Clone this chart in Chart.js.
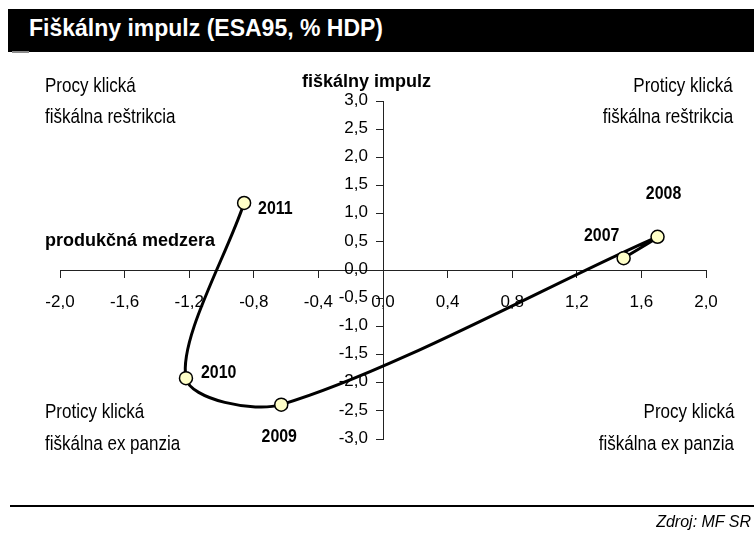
<!DOCTYPE html>
<html lang="sk">
<head>
<meta charset="utf-8">
<script src="https://cdn.jsdelivr.net/npm/chart.js@4.4.1/dist/chart.umd.min.js"></script>
<style>
  html, body { margin: 0; padding: 0; background: #fff; }
  body { width: 754px; height: 534px; position: relative; overflow: hidden; font-family: "Liberation Sans", Arial, sans-serif; }
  #chartBox { position: absolute; left: 0; top: 0; width: 754px; height: 534px; }
  .title-bar { position: absolute; left: 8px; top: 9px; width: 746px; height: 43px; background: #000; }
  .title-mark { position: absolute; left: 12px; top: 51px; width: 17px; height: 2px; background: #8a8a8a; }
  .title { position: absolute; left: 29px; top: 17px; color: #fff; font-weight: bold; font-size: 23px; line-height: 23px; white-space: nowrap; }
  /* the original text is a tall, condensed face: squeeze Liberation Sans */
  .txt { position: absolute; font-size: 20.5px; line-height: 20px; color: #000; white-space: nowrap; transform: scaleX(0.83); transform-origin: left center; }
  .txt.r { text-align: right; transform-origin: right center; }
  .bold { position: absolute; font-weight: bold; font-size: 18px; line-height: 18px; white-space: nowrap; }
  .foot-line { position: absolute; left: 10px; top: 505px; width: 744px; height: 2px; background: #000; }
  .source { position: absolute; right: 3px; top: 514px; font-size: 16px; line-height: 16px; font-style: italic; white-space: nowrap; }
</style>
</head>
<body>
<div class="title-bar"></div>
<div class="title-mark"></div>
<div class="title">Fiškálny impulz (ESA95, % HDP)</div>

<div id="chartBox"><canvas id="impulseChart" width="754" height="534"></canvas></div>

<div class="txt" style="left:45px; top:75px;">Procy klická</div>
<div class="txt" style="left:45px; top:106px;">fiškálna reštrikcia</div>
<div class="txt r" style="right:21px; top:75px;">Proticy klická</div>
<div class="txt r" style="right:21px; top:106px;">fiškálna reštrikcia</div>
<div class="txt" style="left:45px; top:401px;">Proticy klická</div>
<div class="txt" style="left:45px; top:433px;">fiškálna ex panzia</div>
<div class="txt r" style="right:20px; top:401px;">Procy klická</div>
<div class="txt r" style="right:20px; top:433px;">fiškálna ex panzia</div>
<div class="bold" style="left:302px; top:72px;">fiškálny impulz</div>
<div class="bold" style="left:45px; top:231px;">produkčná medzera</div>

<div class="foot-line"></div>
<div class="source">Zdroj: MF SR</div>

<script>
// data
const years = ['2007', '2008', '2009', '2010', '2011'];
const outputGap = [1.49, 1.70, -0.63, -1.22, -0.86];      // x: produkčná medzera
const fiscalImpulse = [0.21, 0.59, -2.39, -1.92, 1.19];   // y: fiškálny impulz
const xRange = [-2, 2];
const xStep = 0.4;
const yRange = [-3, 3];
const yStep = 0.5;

const points = years.map((yr, i) => ({ x: outputGap[i], y: fiscalImpulse[i] }));

// format like 1,5 / -0,4
const fmt = (v) => {
	if (Math.abs(v) < 1e-9) v = 0;
	return v.toFixed(1).replace('.', ',');
};

const fontFamily = '"Liberation Sans", Arial, sans-serif';

// year labels next to the points (offsets in px)
const labelPos = {
	'2007': { dx: -22, dy: -22, align: 'center' },
	'2008': { dx: 6, dy: -43, align: 'center' },
	'2009': { dx: -2, dy: 32, align: 'center' },
	'2010': { dx: 15, dy: -5, align: 'left' },
	'2011': { dx: 14, dy: 6, align: 'left' }
};

const yearLabels = {
	id: 'yearLabels',
	afterDatasetsDraw(chart) {
		const c = chart.ctx;
		const meta = chart.getDatasetMeta(0);
		meta.data.forEach((pt, i) => {
			const p = labelPos[years[i]];
			c.save();
			c.translate(pt.x + p.dx, pt.y + p.dy);
			c.scale(0.86, 1);
			c.font = 'bold 18.5px ' + fontFamily;
			c.fillStyle = '#000';
			c.textBaseline = 'middle';
			c.textAlign = p.align;
			c.fillText(years[i], 0, 0);
			c.restore();
		});
	}
};

// y tick labels sit left of the centred axis, clear of the tick marks
const yTickLabels = {
	id: 'yTickLabels',
	afterDraw(chart) {
		const c = chart.ctx;
		const ys = chart.scales.y;
		const axisX = chart.scales.x.getPixelForValue(0);
		c.save();
		c.font = '17px ' + fontFamily;
		c.fillStyle = '#000';
		c.textAlign = 'right';
		c.textBaseline = 'middle';
		ys.ticks.forEach((t) => {
			c.fillText(fmt(t.value), axisX - 15, ys.getPixelForValue(t.value) - 1);
		});
		c.restore();
	}
};

const axisColor = '#222';

const ctx = document.querySelector('#impulseChart').getContext('2d');
const impulseChart = new Chart(ctx, {
	type: 'scatter',
	data: {
		datasets: [
			{
				data: points,
				showLine: true,
				tension: 0.3,
				borderColor: '#000',
				borderWidth: 3,
				pointRadius: 6.5,
				pointBackgroundColor: '#ffffc8',
				pointBorderColor: '#000',
				pointBorderWidth: 1.5
			}
		]
	},
	options: {
		responsive: false,
		animation: false,
		devicePixelRatio: 1,
		layout: {
			padding: { left: 60, right: 48, top: 101, bottom: 95 }
		},
		plugins: {
			legend: { display: false },
			tooltip: { enabled: false }
		},
		scales: {
			x: {
				type: 'linear',
				position: { y: 0 },
				min: xRange[0],
				max: xRange[1],
				afterFit: (s) => { s.height = 0; },
				grid: { drawOnChartArea: false, tickLength: 7, color: axisColor },
				border: { color: axisColor, width: 1 },
				ticks: {
					stepSize: xStep,
					padding: 15,
					color: '#000',
					font: { family: fontFamily, size: 17 },
					maxRotation: 0,
					autoSkip: false,
					callback: (v) => fmt(v)
				}
			},
			y: {
				type: 'linear',
				position: { x: 0 },
				min: yRange[0],
				max: yRange[1],
				afterFit: (s) => { s.width = 0; },
				grid: { drawOnChartArea: false, tickLength: 7, color: axisColor },
				border: { color: axisColor, width: 1 },
				ticks: {
					stepSize: yStep,
					display: false
				}
			}
		}
	},
	plugins: [ yearLabels, yTickLabels ]
});
</script>
</body>
</html>
